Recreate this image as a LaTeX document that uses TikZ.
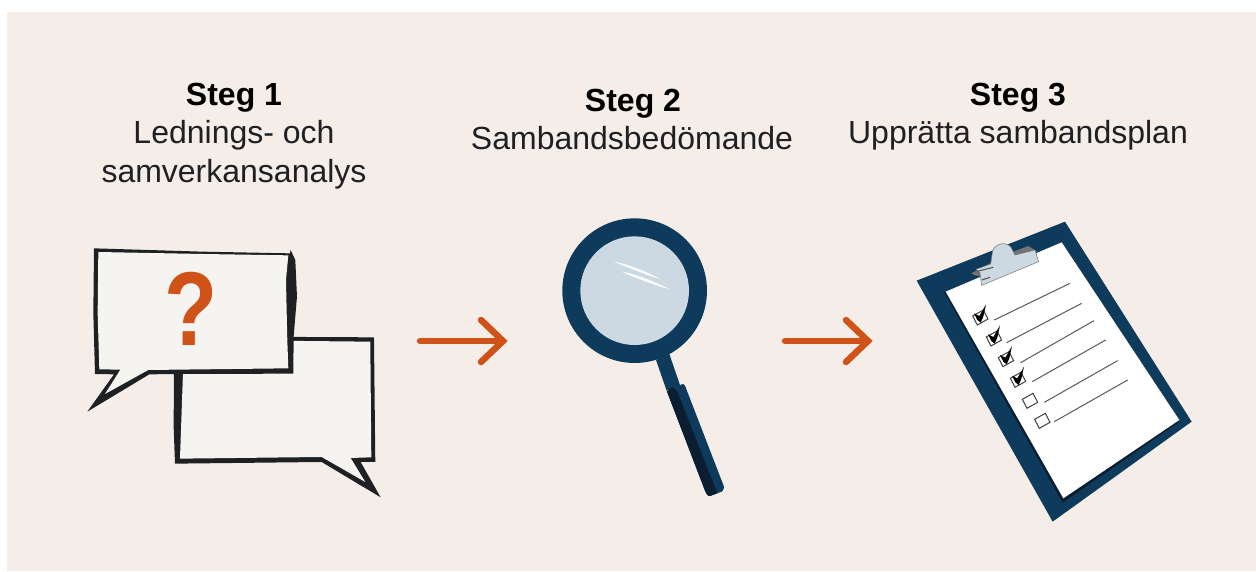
\documentclass[tikz,border=0pt]{standalone}
\usepackage{fontspec}
\setmainfont{Liberation Sans}
\definecolor{panel}{HTML}{F5EEE8}
\definecolor{bubble}{HTML}{F6F4F1}
\definecolor{ink}{HTML}{1F2023}
\definecolor{rust}{HTML}{CF5318}
\definecolor{navy}{HTML}{0E3A5C}
\definecolor{navyd}{HTML}{0B1D30}
\definecolor{lens}{HTML}{CDD9E2}
\tikzset{
 x=1pt,y=-1pt,
 title/.style={font=\fontsize{32}{32}\selectfont\bfseries,anchor=base,inner sep=0pt,text=black},
 sub/.style={font=\fontsize{32}{32}\selectfont,anchor=base,inner sep=0pt,text=ink},
 flow/.style={draw=rust,line width=6.5pt,line cap=round,line join=miter},
 rule/.style={draw=black!65,line width=1pt},
 tick/.style={draw=black!75,line width=1pt,fill=white},
}
\begin{document}
\begin{tikzpicture}
\useasboundingbox (0,0) rectangle (1256,571);
\fill[white] (0,0) rectangle (1256,571);
\fill[panel] (7,12) rectangle (1256,571);
% headings
\node[title] (s1) at (234,105) {Steg 1};
\node[sub] (s1a) at (234,143) {Lednings- och};
\node[sub] (s1b) at (234,182) {samverkansanalys};
\node[title] (s2) at (633,111) {Steg 2};
\node[sub] (s2a) at (632,149) {Sambandsbedömande};
\node[title] (s3) at (1018,105) {Steg 3};
\node[sub] (s3a) at (1018,143) {Upprätta sambandsplan};
% speech bubble 2
\begin{scope}[shift={(70,230)},x=0.3333pt,y=-0.3333pt]
\fill[ink] (500,320)--(912,322)--(916,696)--(872,696)--(932,802)--(755,696)--(315,701)--(311,590)--(312,400)--cycle;
\fill[bubble] (500,331)--(901,335)--(904,682)--(842,684)--(886,756)--(755,681)--(330,686)--(340,400)--cycle;
% speech bubble 1
\fill[ink] (72,55)--(400,65)--(660,70)--(662,60)--(676,90)--(681,200)--(671,320)--(670,431)--(340,432)--(238,433)--(52,545)--(132,433)--(75,432)--(70,250)--cycle;
\fill[bubble] (85,66)--(400,72)--(655,76)--(648,150)--(650,240)--(652,330)--(655,415)--(235,420)--(105,492)--(151,419)--(88,418)--(83,250)--cycle;
\end{scope}
\node[text=rust,inner sep=0pt,anchor=base] (q) at (191,345) {\scalebox{0.87}[1.05]{\fontsize{100}{100}\selectfont\bfseries ?}};
% arrows
\coordinate (a1s) at (420,341); \coordinate (a1e) at (503,341);
\coordinate (a1u) at (481,320); \coordinate (a1d) at (481,362);
\draw[flow] (a1s)--(a1e); \draw[flow] (a1u)--(a1e)--(a1d);
\coordinate (a2s) at (785,341); \coordinate (a2e) at (868,341);
\coordinate (a2u) at (846,320); \coordinate (a2d) at (846,362);
\draw[flow] (a2s)--(a2e); \draw[flow] (a2u)--(a2e)--(a2d);
% magnifier
\begin{scope}[shift={(540,200)},x=0.3333pt,y=-0.3333pt]
\fill[navy] (348,480)--(388,462)--(420,555)--(380,572)--cycle;
\fill[navy] (380,572) to[out=-70,in=180] (396,562)--(430,552) to[out=-20,in=120] (440,570)--(552,860) to[out=80,in=10] (545,875)--(510,888) to[out=190,in=-60] (495,872)--cycle;
\fill[navyd] (380,572) to[out=-70,in=180] (398,562)--(412,575)--(532,880)--(510,888) to[out=190,in=-60] (495,872)--cycle;
\fill[navy] (284,272) circle[radius=217];
\fill[lens] (284,272) circle[radius=163];
\fill[white] (220,184) .. controls (270,195) and (320,215) .. (362,238) .. controls (320,225) and (270,205) .. (220,184) -- cycle;
\fill[white] (245,215) .. controls (295,225) and (345,245) .. (388,268) .. controls (345,255) and (295,238) .. (245,215) -- cycle;
\end{scope}
% clipboard
\begin{scope}[shift={(900,210)},x=0.3333pt,y=-0.3333pt]
\fill[navy] (50,212)--(495,35)--(875,635)--(458,935)--cycle;
\fill[navyd] (133,248)--(485,97)--(838,635)--(488,878)--cycle;
\fill[white] (137,245)--(485,97)--(838,630)--(490,865)--cycle;
\foreach \xa/\ya/\xb/\yb in {283/330/510/220,320/398/545/280,362/458/582/332,397/515/617/390,433/577/653/452,463/635/683/510}
 \draw[rule] (\xa,\ya)--(\xb,\yb);
\foreach \cx/\cy in {241/322,282/385,318/447,354/509,390/572,427/632}
 \draw[tick] (\cx-23,\cy-4)--(\cx+9,\cy-22)--(\cx+23,\cy+5)--(\cx-9,\cy+23)--cycle;
\foreach \cx/\cy in {240/322,282/385,318/447,354/509}
 \fill[black] (\cx-18,\cy-12)--(\cx-2,\cy-4)--(\cx+18,\cy-39)--(\cx+10,\cy-2)--(\cx+2,\cy+16)--(\cx-8,\cy+8)--cycle;
% clip
\fill[black!55] (214,190)--(270,160)--(280,165)--(250,200)--(225,196)--cycle;
\fill[black!55] (340,125)--(385,108)--(412,125)--(350,145)--cycle;
\fill[lens] (228,178)--(272,162)--(278,122) .. controls (285,102) and (318,92) .. (333,112) -- (345,135)--(405,120)--(416,155)--(245,226)--(240,188)--cycle;
\draw[black!55,line width=.5pt] (228,178)--(272,162)--(278,122) .. controls (285,102) and (318,92) .. (333,112) -- (345,135)--(405,120)--(416,155)--(245,226)--(240,188)--cycle;
\draw[black!70,line width=1pt] (232,184)--(280,172) (245,210)--(270,202);
\end{scope}
\end{tikzpicture}
\end{document}
